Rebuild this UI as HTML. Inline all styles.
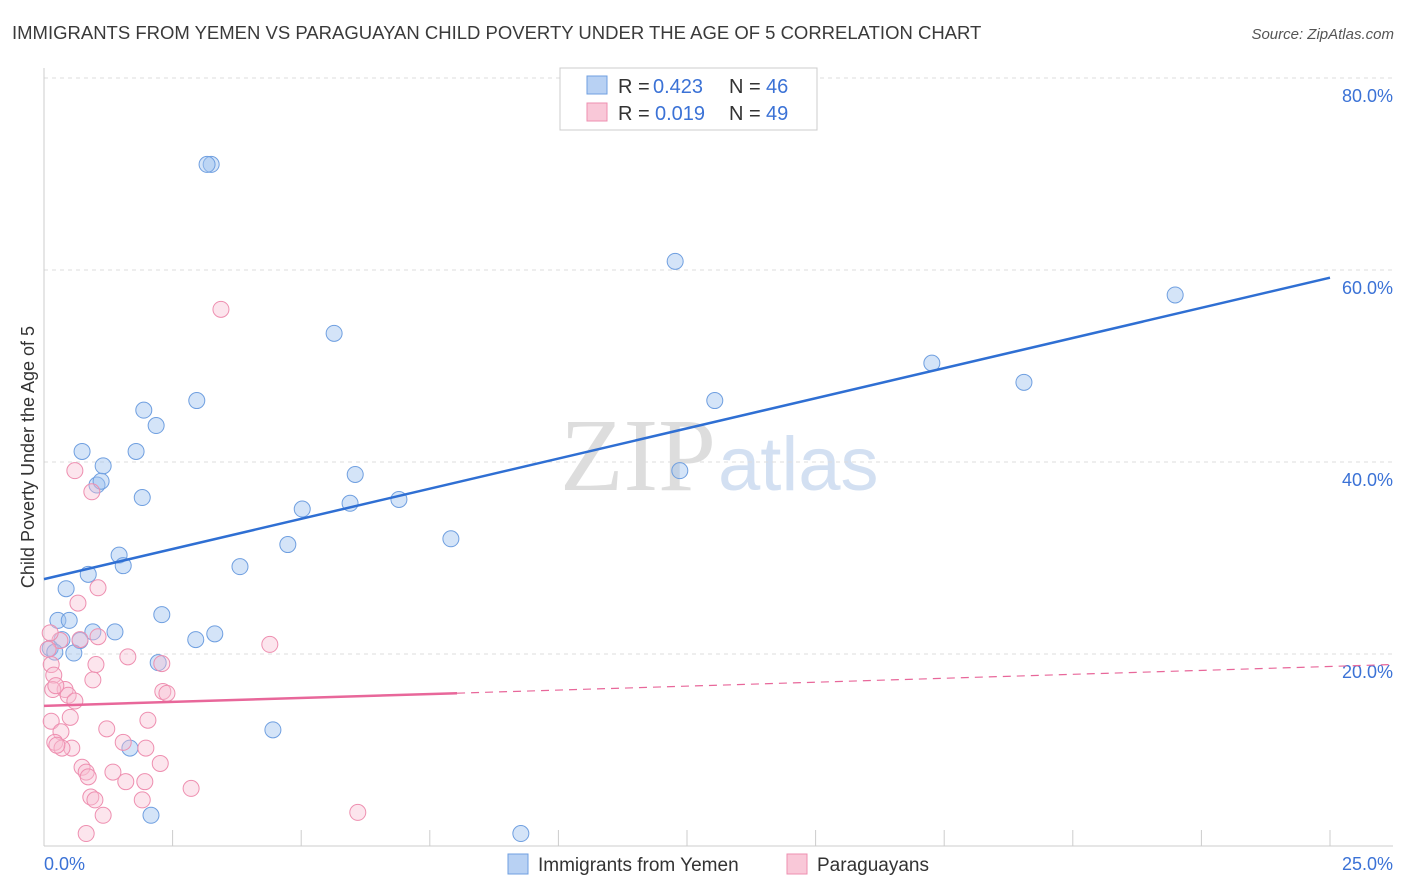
<!DOCTYPE html>
<html><head><meta charset="utf-8"><style>
body{margin:0;background:#fff;font-family:"Liberation Sans",sans-serif;}
svg{display:block}
</style></head><body>
<svg width="1406" height="892">
<text x="12" y="39" font-size="18.5" fill="#3a3a3a">IMMIGRANTS FROM YEMEN VS PARAGUAYAN CHILD POVERTY UNDER THE AGE OF 5 CORRELATION CHART</text>
<text x="1394" y="39" font-size="15" fill="#555" text-anchor="end" font-style="italic">Source: ZipAtlas.com</text>
<text x="34" y="457" font-size="18" fill="#333" text-anchor="middle" transform="rotate(-90 34 457)">Child Poverty Under the Age of 5</text>
<text x="716" y="490" font-size="104" fill="#ddd" text-anchor="end" font-family="Liberation Serif">ZIP</text>
<text x="718" y="490" font-size="76" fill="#d3e0f2">atlas</text>
<g id="grid"></g><g id="pts"></g><g id="lines"></g>
<g>
<rect x="560" y="68" width="257" height="62" fill="#fff" stroke="#ccc"/>
<rect x="587" y="76" width="20" height="18" fill="#b8d1f3" stroke="#6f9fe0"/>
<text x="618" y="93" font-size="20" fill="#333">R =</text>
<text x="653" y="93" font-size="20" fill="#3b72d6">0.423</text>
<text x="729" y="93" font-size="20" fill="#333">N =</text>
<text x="766" y="93" font-size="20" fill="#3b72d6">46</text>
<rect x="587" y="103" width="20" height="18" fill="#f9c8d8" stroke="#ee8fb0"/>
<text x="618" y="120" font-size="20" fill="#333">R =</text>
<text x="655" y="120" font-size="20" fill="#3b72d6">0.019</text>
<text x="729" y="120" font-size="20" fill="#333">N =</text>
<text x="766" y="120" font-size="20" fill="#3b72d6">49</text>
</g>
<g>
<rect x="508" y="854" width="20" height="20" fill="#b8d1f3" stroke="#6f9fe0"/>
<text x="538" y="871" font-size="19" fill="#333">Immigrants from Yemen</text>
<rect x="787" y="854" width="20" height="20" fill="#f9c8d8" stroke="#ee8fb0"/>
<text x="817" y="871" font-size="19" fill="#333">Paraguayans</text>
</g>
</svg>
<script>
const yTicks=[20,40,60,80];
const xTickLabels=["0.0%","25.0%"];
const blueX=[3.25,3.17,12.27,21.99,5.64,17.26,19.05,2.97,13.04,1.94,2.18,0.74,1.79,1.15,12.36,6.05,1.03,1.11,1.91,6.90,5.95,5.02,7.91,4.74,1.46,1.54,3.81,0.86,0.43,2.29,0.27,0.49,0.95,1.38,3.32,2.95,0.35,0.70,0.12,0.21,0.58,2.22,4.45,1.67,2.08,9.27];
const blueY=[71.0,71.0,60.9,57.4,53.4,50.3,48.3,46.4,46.4,45.4,43.8,41.1,41.1,39.6,39.1,38.7,37.6,38.0,36.3,36.1,35.7,35.1,32.0,31.4,30.3,29.2,29.1,28.3,26.8,24.1,23.5,23.5,22.3,22.3,22.1,21.5,21.5,21.4,20.6,20.2,20.1,19.1,12.1,10.2,3.2,1.3];
const pinkX=[3.44,0.60,0.93,1.05,0.66,0.31,0.70,1.05,4.39,1.63,1.01,2.29,0.14,0.19,0.95,0.41,0.47,0.60,2.31,2.39,0.17,0.23,0.51,0.14,2.02,1.22,0.33,1.54,0.21,0.54,0.35,1.98,0.74,0.82,1.34,2.26,1.59,1.96,0.86,0.91,0.99,1.91,2.86,1.15,0.82,6.10,0.12,0.25,0.08];
const pinkY=[55.9,39.1,36.9,26.9,25.3,21.4,21.5,21.8,21.0,19.7,18.9,19.0,18.9,17.8,17.3,16.3,15.7,15.1,16.1,15.9,16.3,16.7,13.4,13.0,13.1,12.2,11.9,10.8,10.8,10.2,10.2,10.2,8.2,7.7,7.7,8.6,6.7,6.7,7.2,5.1,4.8,4.8,6.0,3.2,1.3,3.5,22.2,10.5,20.5];
const blueLine=[27.8,59.2];   // value at x=0, x=25
const pinkLine=[14.6,18.9];   // value at x=0, x=26.2
const X=v=>44+v/25*1286, Y=v=>846-v/20*192;
const NS="http://www.w3.org/2000/svg";
function mk(tag,attrs,parent){const e=document.createElementNS(NS,tag);for(const k in attrs)e.setAttribute(k,attrs[k]);document.getElementById(parent).appendChild(e);return e;}
yTicks.forEach(t=>{
 const l=mk('line',{x1:44,x2:1393,y1:Y(t),y2:Y(t),stroke:'#ddd','stroke-dasharray':'4 4'},'grid');
 
 
 const tx=mk('text',{x:1393,y:Y(t)+24,'font-size':18,fill:'#3b72d6','text-anchor':'end'},'grid');
 tx.textContent=t.toFixed(1)+'%';
 
 
});
const ax=mk('line',{x1:44,x2:44,y1:68,y2:846,stroke:'#ccc'},'grid');


const bx=mk('line',{x1:44,x2:1393,y1:846,y2:846,stroke:'#ccc'},'grid');


for(let i=0;i<=10;i++){
 const t=mk('line',{x1:X(i*2.5),x2:X(i*2.5),y1:830,y2:846,stroke:'#ccc'},'grid');
 
 
}
[[0,44,'start'],[25,1393,'end']].forEach((d,i)=>{
 const tx=mk('text',{x:d[1],y:870,'font-size':18,fill:'#3b72d6','text-anchor':d[2]},'grid');
 tx.textContent=xTickLabels[i];
 
 
});
blueX.forEach((x,i)=>{
 const c=mk('circle',{cx:X(x),cy:Y(blueY[i]),r:8,fill:'rgba(160,195,240,0.45)',stroke:'#6f9fe0','stroke-width':1},'pts');
 
 
});
pinkX.forEach((x,i)=>{
 const c=mk('circle',{cx:X(x),cy:Y(pinkY[i]),r:8,fill:'rgba(248,190,210,0.4)',stroke:'#ee8fb0','stroke-width':1},'pts');
 
 
});
const bl=mk('line',{x1:X(0),y1:Y(blueLine[0]),x2:X(25),y2:Y(blueLine[1]),stroke:'#2f6fd3','stroke-width':2.5},'lines');


const pf=x=>pinkLine[0]+(pinkLine[1]-pinkLine[0])*x/26.2;
const ps=mk('line',{x1:X(0),y1:Y(pf(0)),x2:X(8.03),y2:Y(pf(8.03)),stroke:'#e8679a','stroke-width':2.5},'lines');


const pd=mk('line',{x1:X(8.03),y1:Y(pf(8.03)),x2:X(26.2),y2:Y(pf(26.2)),stroke:'#e8679a','stroke-width':1.2,'stroke-dasharray':'8 6'},'lines');


</script>
</body></html>
